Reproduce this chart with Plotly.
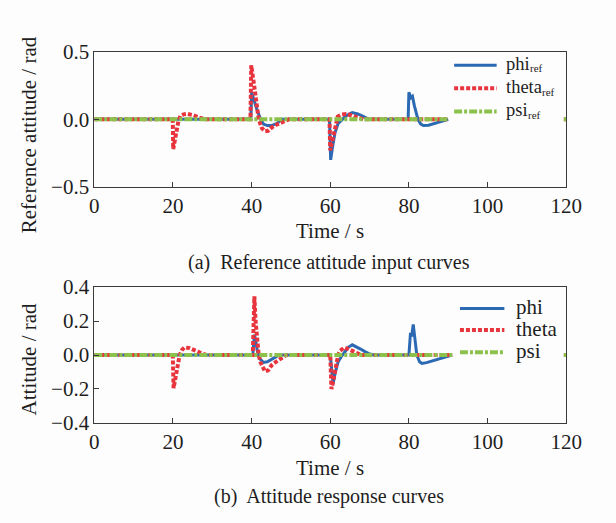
import plotly.graph_objects as go

# ---------------- data ----------------
# (a) reference attitude inputs
phi_ref_t = [0, 39.8, 40.0, 40.5, 41.4, 42.3, 43.0, 44.0, 45.0, 46.5, 47.5,
             59.8, 60.1, 60.6, 61.2, 62.0, 63.0, 64.2, 65.6, 67.0, 68.5, 69.8,
             79.8, 80.0, 80.5, 80.9, 81.4, 82.3, 83.0, 83.7, 85.0, 86.5, 88.3, 90.0]
phi_ref_v = [0, 0, 0.20, 0.15, 0.067, 0.0, -0.035, -0.046, -0.046, -0.03, 0.0,
             0.0, -0.30, -0.20, -0.10, -0.03, 0.0, 0.03, 0.05, 0.04, 0.02, 0.0,
             0.0, 0.20, 0.16, 0.17, 0.10, 0.0, -0.035, -0.046, -0.044, -0.03, -0.012, 0.0]

theta_ref_t = [0, 19.95, 20.05, 20.4, 20.9, 21.4, 21.9, 22.7, 23.7, 25.0, 26.5, 28.2,
               39.7, 39.9, 40.5, 41.0, 41.4, 41.8, 42.6, 43.4, 44.2, 45.1, 46.3, 47.5, 49.5,
               59.8, 60.0, 60.6, 61.2, 61.9, 62.8, 64.0, 65.3, 66.8, 68.5, 90.0,
               None, 119.4, 120]
theta_ref_v = [0, 0, -0.22, -0.17, -0.08, -0.01, 0.025, 0.037, 0.04, 0.032, 0.015, 0.0,
               0.0, 0.40, 0.28, 0.18, 0.11, 0.0, -0.065, -0.088, -0.085, -0.06, -0.04, -0.025, 0.0,
               0.0, -0.23, -0.15, -0.06, 0.02, 0.035, 0.04, 0.03, 0.015, 0.0, 0.0,
               None, 0, 0]

psi_ref_t = [0, 90.0, None, 119.4, 120]
psi_ref_v = [0, 0, None, 0, 0]

# (b) attitude responses
phi_t = [0, 40.3, 40.7, 41.0, 41.4, 42.0, 43.0, 44.0, 45.5, 47.0,
         60.0, 60.4, 60.7, 61.3, 62.0, 62.8, 63.8, 64.6, 65.6, 66.6, 67.7, 68.8, 69.8, 71.0,
         80.0, 80.4, 80.7, 81.1, 81.5, 82.0, 82.7, 83.3, 84.5, 85.8, 87.0, 88.3, 90.0, 91.0]
phi_v = [0, 0, 0.12, 0.09, 0.03, -0.02, -0.044, -0.04, -0.02, 0,
         0, -0.12, -0.17, -0.10, -0.04, -0.01, 0.02, 0.045, 0.06, 0.05, 0.035, 0.02, 0.008, 0,
         0, 0.13, 0.11, 0.18, 0.10, 0.0, -0.04, -0.05, -0.045, -0.036, -0.028, -0.02, -0.005, 0]

theta_t = [0, 19.95, 20.15, 20.5, 20.9, 21.3, 21.7, 22.3, 22.9, 24.0, 25.0, 26.3, 27.5, 28.5,
           40.3, 40.5, 40.7, 41.0, 41.4, 41.8, 42.3, 42.8, 43.4, 44.2, 45.1, 46.2, 47.2, 48.8,
           60.0, 60.3, 60.7, 61.1, 61.5, 62.0, 62.5, 63.6, 64.6, 65.6, 66.7, 67.8, 91.0,
           None, 119.4, 120]
theta_v = [0, 0, -0.195, -0.15, -0.09, -0.04, 0.0, 0.03, 0.044, 0.042, 0.035, 0.02, 0.008, 0,
           0, 0.30, 0.345, 0.20, 0.09, 0.0, -0.045, -0.075, -0.097, -0.09, -0.06, -0.04, -0.025, 0,
           0, -0.20, -0.16, -0.10, -0.04, 0.0, 0.025, 0.044, 0.035, 0.025, 0.012, 0, 0,
           None, 0, 0]

psi_t = [0, 91.0, None, 119.4, 120]
psi_v = [0, 0, None, 0, 0]

x_ticks = [0, 20, 40, 60, 80, 100, 120]
ya_ticks = [-0.5, 0.0, 0.5]
yb_ticks = [-0.4, -0.2, 0.0, 0.2, 0.4]

names_a = ["phi", "theta", "psi"]
sub_a = "ref"
names_b = ["phi", "theta", "psi"]
caption_a = "(a)\u00a0 Reference attitude input curves"
caption_b = "(b)\u00a0 Attitude response curves"

# ---------------- styling ----------------
W, H = 616, 523
FONT = "Liberation Serif, Times New Roman, serif"
TXT = "#1e1e1e"
BLUE = "#2b69b3"
RED = "#e8343d"
GREEN = "#8cc24c"
styles = [
    dict(color=BLUE, width=3),
    dict(color=RED, width=4, dash="4px,2px"),
    dict(color=GREEN, width=4, dash="8px,2px,3px,2px"),
]

def fx(px):
    return px / W

def fy(py):
    return 1 - py / H

fig = go.Figure()

series_a = [(phi_ref_t, phi_ref_v), (theta_ref_t, theta_ref_v), (psi_ref_t, psi_ref_v)]
series_b = [(phi_t, phi_v), (theta_t, theta_v), (psi_t, psi_v)]

for (t, v), st, name in zip(series_a, styles, names_a):
    fig.add_trace(go.Scatter(x=t, y=v, mode="lines", line=st, name=name + "_ref",
                             xaxis="x", yaxis="y", showlegend=False,
                             connectgaps=False))
for (t, v), st, name in zip(series_b, styles, names_b):
    fig.add_trace(go.Scatter(x=t, y=v, mode="lines", line=st, name=name,
                             xaxis="x2", yaxis="y2", showlegend=False,
                             connectgaps=False))

xl, xr = 92.5, 581.0
a_top, a_bot = 41.7, 183.3
b_top, b_bot = 288.3, 430.7

axis_common = dict(showline=True, linecolor="#3a3a3a", linewidth=1, mirror=True,
                   ticks="inside", ticklen=5, tickcolor="#3a3a3a", showgrid=False,
                   zeroline=False,
                   tickfont=dict(family=FONT, size=21, color=TXT))

fig.update_layout(
    width=W, height=H,
    margin=dict(l=0, r=0, t=0, b=0),
    paper_bgcolor="#fdfdfd", plot_bgcolor="#fdfdfd",
    xaxis=dict(domain=[fx(xl), fx(xr)], range=[0, 120], tickvals=x_ticks,
               anchor="y", **axis_common),
    yaxis=dict(domain=[fy(a_bot), fy(a_top)], range=[-0.5, 0.5], tickvals=ya_ticks,
               tickformat=".1f", anchor="x", **axis_common),
    xaxis2=dict(domain=[fx(xl), fx(xr)], range=[0, 120], tickvals=x_ticks,
                anchor="y2", **axis_common),
    yaxis2=dict(domain=[fy(b_bot), fy(b_top)], range=[-0.4, 0.4], tickvals=yb_ticks,
                tickformat=".1f", anchor="x2", **axis_common),
)

annotations = []
shapes = []

def text(x, y, s, size=21, angle=0, xanchor="center"):
    annotations.append(dict(x=fx(x), y=fy(y), xref="paper", yref="paper", text=s,
                            showarrow=False, textangle=angle, xanchor=xanchor,
                            yanchor="middle", borderpad=0,
                            font=dict(family=FONT, size=size, color=TXT)))

# axis titles
text(25, 129, "Reference attitude / rad", angle=-90)
text(336, 230, "Time / s")
text(25, 364, "Attitude / rad", angle=-90)
text(336, 478, "Time / s")
# captions
text(335, 263, caption_a, size=20)
text(335, 508, caption_b, size=20)

# legends (drawn manually so the sample lengths match the reference)
LEG_A = 18.5
main_w = {"phi": 23.6, "theta": 36.0, "psi": 21.6}
for i, (nm, st) in enumerate(zip(names_a, styles)):
    y = [55.7, 80.0, 104.3][i]
    shapes.append(dict(type="line", xref="paper", yref="paper",
                       x0=fx(465), x1=fx(509), y0=fy(y), y1=fy(y), line=st))
    text(518, y - 1.5, nm, size=LEG_A, xanchor="left")
    text(518 + main_w[nm] + 0.5, y + 3.5, sub_a, size=11, xanchor="left")
for i, (nm, st) in enumerate(zip(names_b, styles)):
    y = [310.7, 333.3, 356.7][i]
    shapes.append(dict(type="line", xref="paper", yref="paper",
                       x0=fx(471), x1=fx(517), y0=fy(y), y1=fy(y), line=st))
    text(528, y - 1, nm, size=21, xanchor="left")

fig.update_layout(annotations=annotations, shapes=shapes)

fig.write_html("out.html")
